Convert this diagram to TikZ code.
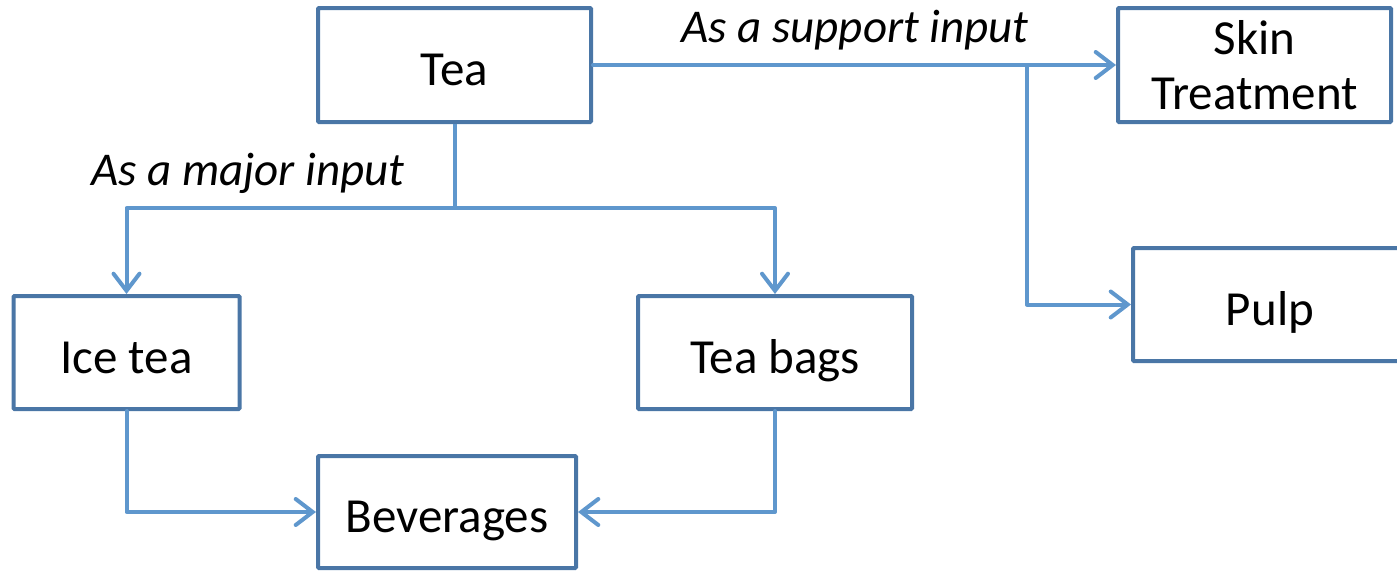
\documentclass[tikz,border=0pt]{standalone}
\usepackage{fontspec}
\setmainfont{Carlito}
\usetikzlibrary{arrows.meta}
\definecolor{boxline}{HTML}{4A76A6}
\definecolor{linkline}{HTML}{5F97CD}
\begin{document}
\begin{tikzpicture}[x=1pt,y=-1pt,
  box/.style={draw=boxline, line width=4pt, rounded corners=1pt, inner sep=0pt,
    font=\fontsize{49}{55}\selectfont, align=center},
  oneline/.style={box, text height=41pt, text depth=0pt},
  link/.style={draw=linkline, line width=4pt, line join=round, line cap=round,
    -{Straight Barb[length=17pt,width=26pt,line width=4pt,line cap=round]}},
  plain/.style={draw=linkline, line width=4pt, line join=round},
  tag/.style={font=\fontsize{47}{55}\selectfont\itshape, inner sep=0pt}]
\useasboundingbox (0,0) rectangle (1397,573);
\begin{scope}
\clip (0,0) rectangle (1397,573);
% boxes
\node[oneline, minimum width=273pt, minimum height=114pt] (tea) at (454.5,65) {Tea};
\node[box, minimum width=273pt, minimum height=114pt] (skin) at (1254.5,65) {Skin\\Treatment};
\node[oneline, minimum width=274pt, minimum height=113pt] (pulp) at (1270,304.5) {Pulp};
\node[oneline, minimum width=226pt, minimum height=113pt] (ice) at (126.5,352.5) {Ice tea};
\node[oneline, minimum width=274pt, minimum height=113pt] (bags) at (775,352.5) {Tea bags};
\node[oneline, minimum width=258pt, minimum height=112pt] (bev) at (447,512) {Beverages};
\end{scope}
% junctions
\coordinate (split) at (454.5,208);
\coordinate (fork) at (1027,65);
% major input branch
\draw[plain] (tea.south) -- (split);
\draw[link] (split) -| (ice.north);
\draw[link] (split) -| (bags.north);
% support input branch
\draw[link] (tea.east) -- (skin.west);
\draw[link] (fork) |- (pulp.west);
% into beverages
\draw[link] (ice.south) |- (bev.west);
\draw[link] (bags.south) |- (bev.east);
% labels
\node[tag] (major) at (248,173) {As a major input};
\node[tag] (support) at (855,30) {As a support input};
\end{tikzpicture}
\end{document}
